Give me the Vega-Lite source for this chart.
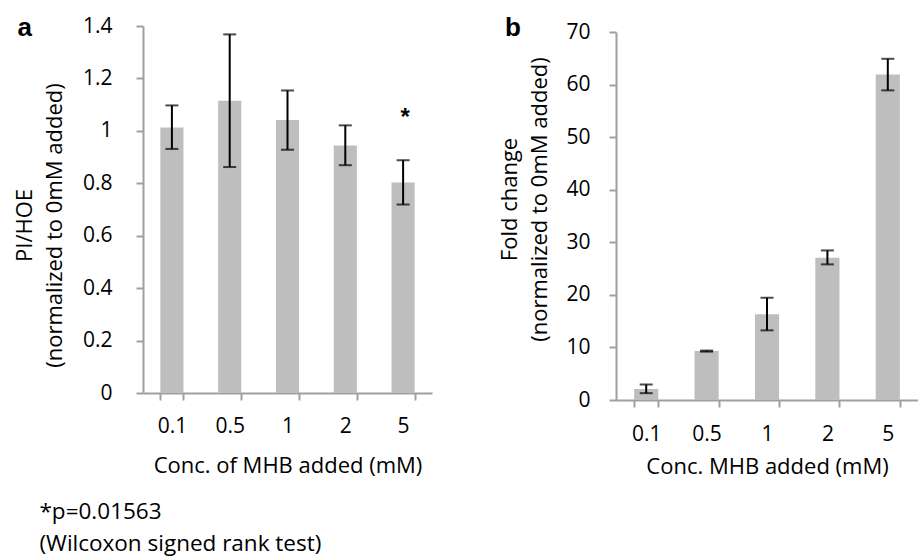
{
  "$schema": "https://vega.github.io/schema/vega-lite/v6.json",
  "padding": {"left": 13, "top": 15, "right": 0, "bottom": 5},
  "background": "white",
  "datasets": {
    "a": [
      {"conc": "0.1", "value": 1.013, "lo": 0.931, "hi": 1.097},
      {"conc": "0.5", "value": 1.115, "lo": 0.862, "hi": 1.368},
      {"conc": "1", "value": 1.041, "lo": 0.928, "hi": 1.154},
      {"conc": "2", "value": 0.944, "lo": 0.869, "hi": 1.021},
      {"conc": "5", "value": 0.803, "lo": 0.719, "hi": 0.888}
    ],
    "b": [
      {"conc": "0.1", "value": 2.1, "lo": 1.3, "hi": 2.95},
      {"conc": "0.5", "value": 9.3, "lo": 9.2, "hi": 9.4},
      {"conc": "1", "value": 16.3, "lo": 13.25, "hi": 19.45},
      {"conc": "2", "value": 27.05, "lo": 25.8, "hi": 28.45},
      {"conc": "5", "value": 61.9, "lo": 58.9, "hi": 64.9}
    ],
    "star": [
      {"conc": "5", "label": "*", "pos": 1.06}
    ]
  },
  "title": {
    "text": ["*p=0.01563", "\u00a0(Wilcoxon signed rank test)"],
    "orient": "bottom",
    "anchor": "start",
    "frame": "bounds",
    "font": "Open Sans",
    "fontSize": 22.5,
    "fontWeight": "normal",
    "color": "#000000",
    "lineHeight": 32,
    "dx": 26,
    "offset": 24
  },
  "spacing": 66,
  "hconcat": [
    {
      "width": 289,
      "height": 367,
      "title": {
        "text": "a",
        "anchor": "start",
        "frame": "bounds",
        "font": "Liberation Sans",
        "fontSize": 26,
        "fontWeight": "bold",
        "color": "#000000",
        "offset": -26,
        "dx": 4
      },
      "layer": [
        {
          "data": {"name": "a"},
          "mark": {"type": "bar", "color": "#bebebe"},
          "encoding": {
            "x": {
              "field": "conc",
              "type": "nominal",
              "sort": null,
              "scale": {"paddingInner": 0.6, "paddingOuter": 0.3},
              "axis": {
                "title": "Conc. of MHB added (mM)",
                "labelAngle": 0,
                "tickBand": "extent",
                "labelPadding": 15,
                "titlePadding": 19
              }
            },
            "y": {
              "field": "value",
              "type": "quantitative",
              "scale": {"domain": [0, 1.4], "nice": false},
              "axis": {
                "title": ["PI/HOE", "(normalized to 0mM added)"],
                "values": [0, 0.2, 0.4, 0.6, 0.8, 1, 1.2, 1.4],
                "format": "~g",
                "labelPadding": 24,
                "titlePadding": 16,
                "titleY": 199
              }
            }
          }
        },
        {
          "data": {"name": "a"},
          "mark": {"type": "rule", "color": "#000000", "strokeWidth": 2},
          "encoding": {
            "x": {"field": "conc", "type": "nominal", "sort": null},
            "y": {"field": "lo", "type": "quantitative"},
            "y2": {"field": "hi"}
          }
        },
        {
          "data": {"name": "a"},
          "mark": {"type": "tick", "color": "#000000", "thickness": 2, "size": 13},
          "encoding": {
            "x": {"field": "conc", "type": "nominal", "sort": null},
            "y": {"field": "lo", "type": "quantitative"}
          }
        },
        {
          "data": {"name": "a"},
          "mark": {"type": "tick", "color": "#000000", "thickness": 2, "size": 13},
          "encoding": {
            "x": {"field": "conc", "type": "nominal", "sort": null},
            "y": {"field": "hi", "type": "quantitative"}
          }
        },
        {
          "data": {"name": "star"},
          "mark": {"type": "text", "font": "Liberation Sans", "fontSize": 24, "fontWeight": "bold", "color": "#000000", "baseline": "middle", "dy": 3, "dx": 2},
          "encoding": {
            "x": {"field": "conc", "type": "nominal", "sort": null},
            "y": {"field": "pos", "type": "quantitative"},
            "text": {"field": "label"}
          }
        }
      ]
    },
    {
      "width": 302,
      "height": 374,
      "title": {
        "text": "b",
        "anchor": "start",
        "frame": "bounds",
        "font": "Liberation Sans",
        "fontSize": 26,
        "fontWeight": "bold",
        "color": "#000000",
        "offset": -20,
        "dx": 6
      },
      "layer": [
        {
          "data": {"name": "b"},
          "mark": {"type": "bar", "color": "#bebebe"},
          "encoding": {
            "x": {
              "field": "conc",
              "type": "nominal",
              "sort": null,
              "scale": {"paddingInner": 0.6, "paddingOuter": 0.3},
              "axis": {
                "title": "Conc. MHB added (mM)",
                "labelAngle": 0,
                "tickBand": "extent",
                "labelPadding": 16,
                "titlePadding": 12
              }
            },
            "y": {
              "field": "value",
              "type": "quantitative",
              "scale": {"domain": [0, 70], "nice": false, "range": [374, 6]},
              "axis": {
                "title": ["Fold change", "(normalized to 0mM added)"],
                "values": [0, 10, 20, 30, 40, 50, 60, 70],
                "labelPadding": 19,
                "titlePadding": 14,
                "titleY": 173
              }
            }
          }
        },
        {
          "data": {"name": "b"},
          "mark": {"type": "rule", "color": "#000000", "strokeWidth": 2},
          "encoding": {
            "x": {"field": "conc", "type": "nominal", "sort": null},
            "y": {"field": "lo", "type": "quantitative"},
            "y2": {"field": "hi"}
          }
        },
        {
          "data": {"name": "b"},
          "mark": {"type": "tick", "color": "#000000", "thickness": 2, "size": 13},
          "encoding": {
            "x": {"field": "conc", "type": "nominal", "sort": null},
            "y": {"field": "lo", "type": "quantitative"}
          }
        },
        {
          "data": {"name": "b"},
          "mark": {"type": "tick", "color": "#000000", "thickness": 2, "size": 13},
          "encoding": {
            "x": {"field": "conc", "type": "nominal", "sort": null},
            "y": {"field": "hi", "type": "quantitative"}
          }
        }
      ]
    }
  ],
  "config": {
    "view": {"stroke": null},
    "axis": {
      "grid": false,
      "domainColor": "#a0a0a0",
      "domainWidth": 2,
      "tickColor": "#a0a0a0",
      "tickWidth": 2,
      "tickSize": 7,
      "labelFont": "Open Sans",
      "labelFontSize": 21,
      "labelColor": "#000000",
      "titleFont": "Open Sans",
      "titleFontSize": 22,
      "titleFontWeight": "normal",
      "titleColor": "#000000",
      "titleLineHeight": 30
    }
  }
}
